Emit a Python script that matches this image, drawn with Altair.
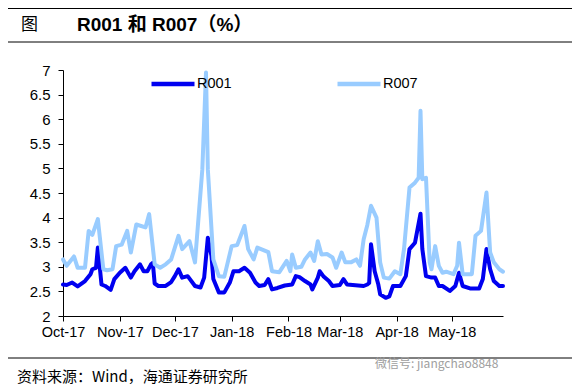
import altair as alt
import pandas as pd

# ---- data ----
r001_dates = [
    "2017-10-01", "2017-10-03", "2017-10-06", "2017-10-09", "2017-10-13", "2017-10-16",
    "2017-10-17", "2017-10-19", "2017-10-20", "2017-10-22", "2017-10-24", "2017-10-27",
    "2017-10-29", "2017-11-01", "2017-11-04", "2017-11-07", "2017-11-09", "2017-11-12",
    "2017-11-14", "2017-11-16", "2017-11-18", "2017-11-19", "2017-11-20", "2017-11-22",
    "2017-11-26", "2017-11-29", "2017-12-01", "2017-12-03", "2017-12-05", "2017-12-08",
    "2017-12-12", "2017-12-15", "2017-12-17", "2017-12-19", "2017-12-21", "2017-12-22",
    "2017-12-25", "2017-12-28", "2017-12-31", "2018-01-02", "2018-01-05", "2018-01-08",
    "2018-01-11", "2018-01-14", "2018-01-16", "2018-01-19", "2018-01-21", "2018-01-23",
    "2018-01-26", "2018-01-30", "2018-02-03", "2018-02-05", "2018-02-07", "2018-02-10",
    "2018-02-13", "2018-02-14", "2018-02-17", "2018-02-18", "2018-02-20", "2018-02-23",
    "2018-02-25", "2018-03-01", "2018-03-03", "2018-03-05", "2018-03-08", "2018-03-14",
    "2018-03-16", "2018-03-17", "2018-03-18", "2018-03-20", "2018-03-22", "2018-03-23",
    "2018-03-26", "2018-03-28", "2018-03-30", "2018-04-03", "2018-04-06", "2018-04-08",
    "2018-04-11", "2018-04-14", "2018-04-15", "2018-04-17", "2018-04-20", "2018-04-22",
    "2018-04-24", "2018-04-26", "2018-04-30", "2018-05-03", "2018-05-05", "2018-05-07",
    "2018-05-11", "2018-05-16", "2018-05-18", "2018-05-20", "2018-05-22", "2018-05-24",
    "2018-05-27", "2018-05-29",
]
r001_values = [
    2.64, 2.63, 2.68, 2.60, 2.71, 2.85,
    2.95, 2.98, 3.39, 2.64, 2.61, 2.53,
    2.75, 2.88, 2.98, 2.78, 2.91, 3.05,
    2.91, 2.91, 3.05, 3.08, 2.66, 2.61,
    2.61, 2.69, 2.81, 2.95, 2.78, 2.81,
    2.61, 2.58, 2.78, 3.59, 3.22, 2.75,
    2.48, 2.48, 2.68, 2.91, 2.91, 2.98,
    2.88, 2.68, 2.61, 2.63, 2.75, 2.54,
    2.57, 2.62, 2.64, 2.81, 2.79, 2.71,
    2.64, 2.54, 2.78, 2.91, 2.81, 2.71,
    2.61, 2.63, 2.75, 2.64, 2.63, 2.61,
    2.64, 2.67, 3.46, 2.91, 2.64, 2.44,
    2.37, 2.40, 2.61, 2.61, 2.81, 3.36,
    3.49, 4.08, 3.36, 2.81, 2.78, 2.78,
    2.61, 2.61, 2.51, 2.61, 2.88, 2.61,
    2.56, 2.56, 2.75, 3.36, 2.95, 2.71,
    2.61, 2.61,
]

r007_dates = [
    "2017-10-01", "2017-10-03", "2017-10-07", "2017-10-09", "2017-10-13", "2017-10-15",
    "2017-10-17", "2017-10-20", "2017-10-23", "2017-10-25", "2017-10-28", "2017-10-30",
    "2017-11-02", "2017-11-05", "2017-11-07", "2017-11-10", "2017-11-15", "2017-11-17",
    "2017-11-20", "2017-11-23", "2017-11-26", "2017-11-29", "2017-12-03", "2017-12-05",
    "2017-12-09", "2017-12-12", "2017-12-16", "2017-12-18", "2017-12-19", "2017-12-22",
    "2017-12-25", "2017-12-28", "2018-01-01", "2018-01-04", "2018-01-08", "2018-01-10",
    "2018-01-13", "2018-01-15", "2018-01-21", "2018-01-23", "2018-01-27", "2018-01-31",
    "2018-02-02", "2018-02-03", "2018-02-05", "2018-02-08", "2018-02-10", "2018-02-13",
    "2018-02-15", "2018-02-17", "2018-02-19", "2018-02-22", "2018-02-25", "2018-02-27",
    "2018-03-02", "2018-03-04", "2018-03-07", "2018-03-10", "2018-03-12", "2018-03-14",
    "2018-03-16", "2018-03-18", "2018-03-21", "2018-03-23", "2018-03-25", "2018-03-28",
    "2018-03-31", "2018-04-03", "2018-04-05", "2018-04-08", "2018-04-11", "2018-04-13",
    "2018-04-14", "2018-04-15", "2018-04-17", "2018-04-19", "2018-04-20", "2018-04-22",
    "2018-04-24", "2018-04-26", "2018-04-28", "2018-05-02", "2018-05-04", "2018-05-05",
    "2018-05-07", "2018-05-12", "2018-05-14", "2018-05-17", "2018-05-20", "2018-05-22",
    "2018-05-24", "2018-05-27", "2018-05-29",
]
r007_values = [
    3.15, 3.02, 3.21, 2.98, 2.98, 3.73,
    3.65, 3.97, 2.95, 2.93, 2.95, 3.42,
    3.45, 3.73, 3.29, 3.86, 3.80, 4.07,
    3.05, 2.98, 3.05, 3.15, 3.63, 3.36,
    3.52, 3.09, 4.98, 6.95, 4.98, 3.15,
    2.81, 2.80, 3.42, 3.44, 3.83, 3.36,
    3.15, 3.39, 3.30, 2.91, 2.89, 3.12,
    2.91, 3.25, 2.98, 3.00, 3.15, 3.29,
    3.12, 3.52, 3.25, 3.26, 3.19, 2.98,
    3.29, 3.09, 3.09, 3.15, 3.02, 3.56,
    3.85, 4.24, 4.00, 3.09, 2.78, 2.76,
    2.91, 2.85, 3.36, 4.61, 4.71, 4.81,
    6.17, 4.78, 4.81, 3.09, 2.95, 3.42,
    3.02, 2.88, 2.90, 2.85, 3.02, 3.49,
    2.85, 2.85, 3.63, 3.73, 4.51, 3.29,
    3.09, 2.95, 2.90,
]

series_names = ["R001", "R007"]
series_colors = ["#0000F0", "#99CCFF"]
y_ticks = [2, 2.5, 3, 3.5, 4, 4.5, 5, 5.5, 6, 6.5, 7]
month_ticks = ["2017-10-01", "2017-11-01", "2017-12-01", "2018-01-01",
               "2018-02-01", "2018-03-01", "2018-04-01", "2018-05-01"]
x_range = ["2017-10-01", "2018-05-29"]

title_label = "图"
title_text = "R001 和 R007（%）"
source_text = "资料来源：Wind，海通证券研究所"
watermark_text = "微信号: jiangchao8848"

# ---- build table ----
df = pd.concat([
    pd.DataFrame({"date": r001_dates, "value": r001_values, "series": series_names[0]}),
    pd.DataFrame({"date": r007_dates, "value": r007_values, "series": series_names[1]}),
], ignore_index=True)


def dt(s):
    y, m, d = (int(p) for p in s.split("-"))
    return alt.DateTime(year=y, month=m, date=d, utc=True)


LATIN = "Liberation Sans"
CJK = "'Liberation Sans', 'Noto Sans CJK SC'"

lines = alt.Chart(df).mark_line(strokeWidth=4, strokeJoin="round", strokeCap="round").encode(
    x=alt.X(
        "date:T",
        scale=alt.Scale(type="utc", domain=[dt(x_range[0]), dt(x_range[1])], nice=False),
        axis=alt.Axis(
            values=[dt(m) for m in month_ticks], format="%b-%y", title=None, grid=False,
            labelFontSize=14.5, labelFont=LATIN, labelColor="#000", tickSize=5,
            labelPadding=4, labelFlush=False, labelOverlap=False,
            domainColor="#000", tickColor="#000",
        ),
    ),
    y=alt.Y(
        "value:Q",
        scale=alt.Scale(domain=[2, 7], nice=False, zero=False),
        axis=alt.Axis(
            values=y_ticks, format="~g", title=None, grid=False,
            labelFontSize=15, labelFont=LATIN, labelColor="#000", tickSize=5,
            labelPadding=8, labelFlush=False, labelOverlap=False,
            domainColor="#000", tickColor="#000",
        ),
    ),
    color=alt.Color(
        "series:N",
        title=None,
        scale=alt.Scale(domain=series_names, range=series_colors),
        legend=alt.Legend(
            orient="none", legendX=86, legendY=-10, direction="horizontal",
            symbolType="stroke", symbolSize=1849, symbolStrokeWidth=4.5,
            labelFontSize=14.5, labelFont=LATIN, labelColor="#000",
            columnPadding=96, labelOffset=0, padding=0,
        ),
    ),
)


def text_layer(txt, x, y, size, color="#000", weight="normal", font=CJK):
    return alt.Chart(pd.DataFrame({"t": [txt]})).mark_text(
        align="left", baseline="middle", fontSize=size, fontWeight=weight,
        color=color, font=font,
    ).encode(x=alt.value(x), y=alt.value(y), text="t:N")


def hline(y, x1=-55, x2=509):
    return alt.Chart(pd.DataFrame({"k": [0]})).mark_rule(color="#000", strokeWidth=1).encode(
        x=alt.value(x1), x2=alt.value(x2), y=alt.value(y)
    )


chart = alt.layer(
    hline(-61.5),
    hline(-28),
    hline(288),
    text_layer(title_label, -42, -45.5, 17, font="'Noto Sans CJK SC'"),
    text_layer(title_text, 14, -45.5, 19, weight="bold"),
    text_layer(source_text, -46, 306.5, 15, font="'Noto Sans CJK SC'"),
    text_layer(watermark_text, 312, 294, 12, color="#a0a0a0", font="'Noto Sans CJK SC'"),
    lines,
).properties(
    width=440,
    height=246,
    autosize=alt.AutoSizeParams(type="none"),
    padding={"left": 55, "top": 62, "right": 69, "bottom": 68},
).configure_view(stroke=None)

chart.save("out.html", embed_options={"renderer": "svg", "actions": False})
